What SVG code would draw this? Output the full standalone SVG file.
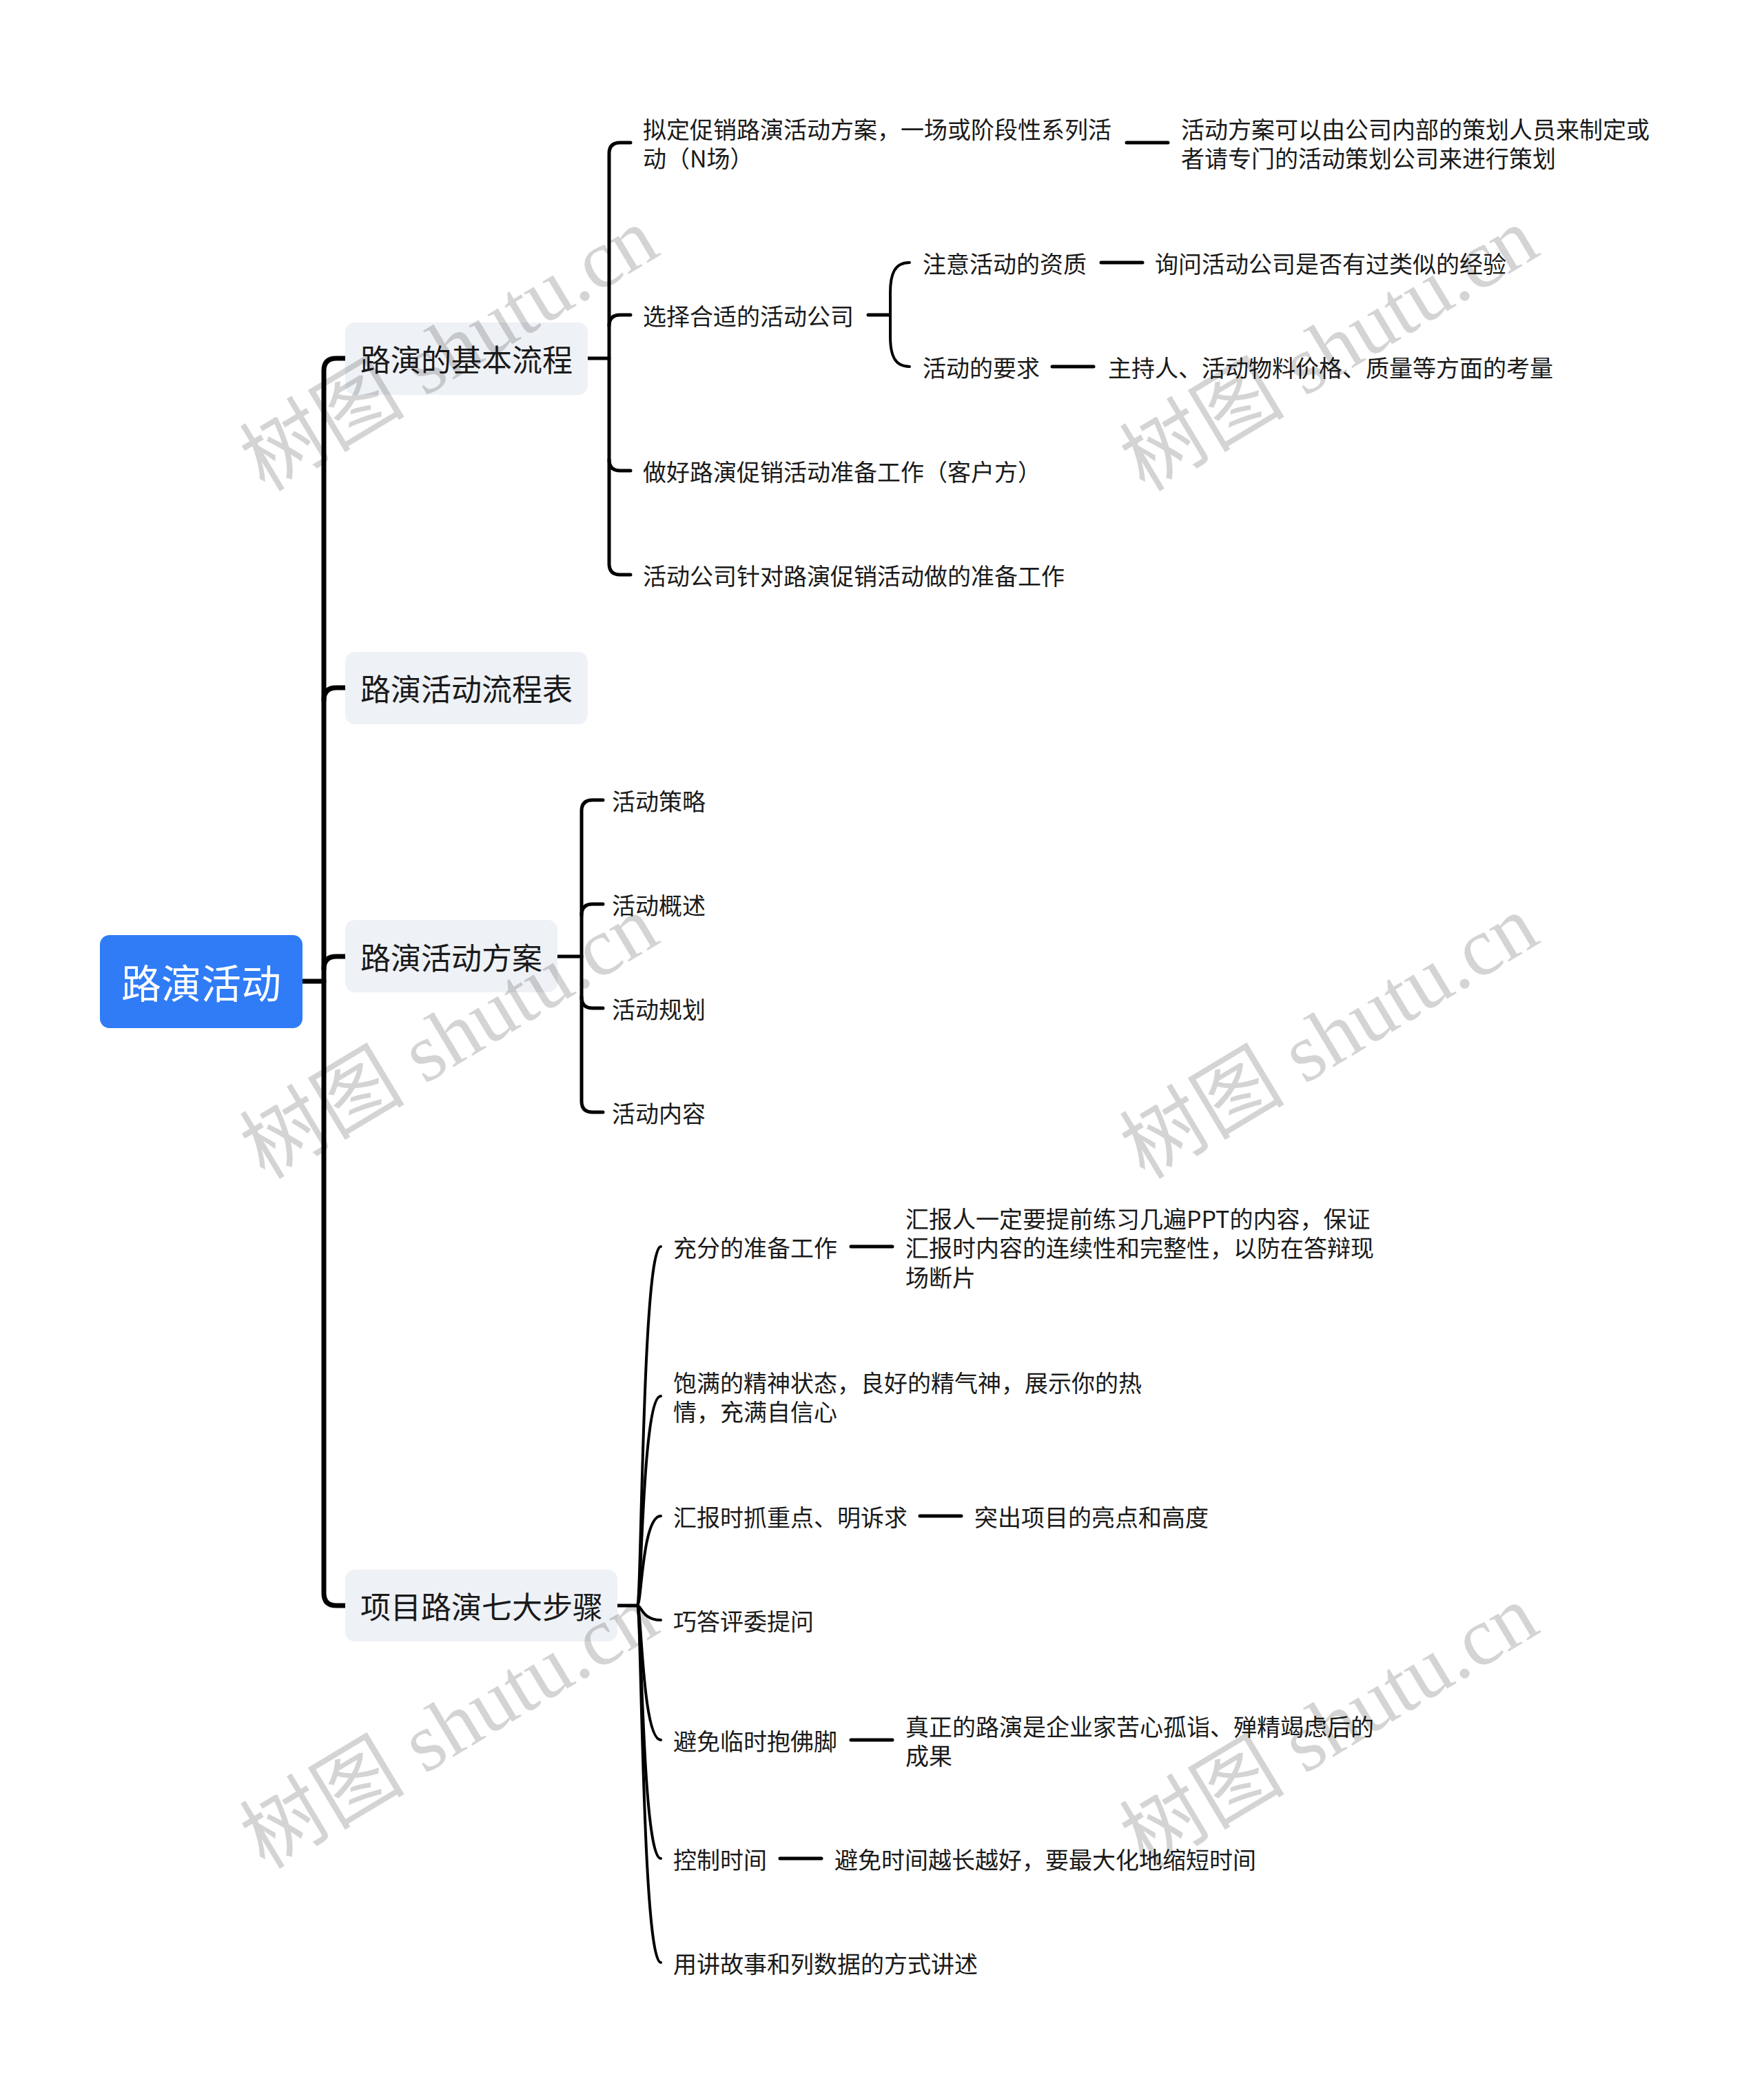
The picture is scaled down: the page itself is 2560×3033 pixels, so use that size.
<svg xmlns="http://www.w3.org/2000/svg" width="2560" height="3033" viewBox="0 0 2560 3033">
<style>
.t{font-family:"Noto Sans CJK SC","Noto Sans",sans-serif;fill:#1a1a1a;dominant-baseline:central}
.t2{font-size:34px}
.t1{font-size:44px}
.root{font-size:58px;fill:#ffffff;text-anchor:middle}
.box{fill:#eef1f5}
.ln{fill:none;stroke:#000;stroke-linecap:round;stroke-linejoin:round}
.w7{stroke-width:7}
.w5{stroke-width:5}
.w4{stroke-width:4}
.wm{font-family:"Liberation Serif","Noto Sans CJK SC",serif;font-size:120px;fill:#000;fill-opacity:0.17;text-anchor:middle;dominant-baseline:central}
</style>
<rect width="2560" height="3033" fill="#ffffff"/>
<g id="connectors">
  <path class="ln w7" d="M439 1424 H470"/>
  <path class="ln w7" d="M501 520 H488 Q470 520 470 538 V2312 Q470 2330 488 2330 H501"/>
  <path class="ln w7" d="M470 1016 Q470 998 488 998 H501"/>
  <path class="ln w7" d="M470 1406 Q470 1388 488 1388 H501"/>
  <!-- 路演的基本流程 -->
  <path class="ln w5" d="M853 520 H884"/>
  <path class="ln w5" d="M915 207 H900 Q884 207 884 223 V818 Q884 834 900 834 H915"/>
  <path class="ln w5" d="M884 473 Q884 457 900 457 H915"/>
  <path class="ln w5" d="M884 667 Q884 683 900 683 H915"/>
  <path class="ln w5" d="M1635 207 H1695"/>
  <path class="ln w5" d="M1260 457 H1290"/>
  <path class="ln w4" d="M1320 381 C1298 381 1292 398 1292 425 V488 C1292 515 1298 532 1320 532"/>
  <path class="ln w5" d="M1598 381 H1658"/>
  <path class="ln w5" d="M1527 532 H1587"/>
  <!-- 路演活动方案 -->
  <path class="ln w5" d="M809 1388 H844"/>
  <path class="ln w5" d="M875 1161 H860 Q844 1161 844 1177 V1598 Q844 1614 860 1614 H875"/>
  <path class="ln w5" d="M844 1328 Q844 1312 860 1312 H875"/>
  <path class="ln w5" d="M844 1447 Q844 1463 860 1463 H875"/>
  <!-- 项目路演七大步骤 -->
  <path class="ln w5" d="M896 2330 H925"/>
  <path class="ln w4" d="M925 2330 C931 2330 932 1809 959 1809"/>
  <path class="ln w4" d="M925 2330 C931 2330 932 2026 959 2026"/>
  <path class="ln w4" d="M925 2330 C931 2330 932 2200 959 2200"/>
  <path class="ln w4" d="M925 2330 C931 2330 932 2351 959 2351"/>
  <path class="ln w4" d="M925 2330 C931 2330 932 2525 959 2525"/>
  <path class="ln w4" d="M925 2330 C931 2330 932 2697 959 2697"/>
  <path class="ln w4" d="M925 2330 C931 2330 932 2848 959 2848"/>
  <path class="ln w5" d="M1235 1809 H1295"/>
  <path class="ln w5" d="M1335 2200 H1395"/>
  <path class="ln w5" d="M1235 2525 H1295"/>
  <path class="ln w5" d="M1132 2697 H1192"/>
</g>
<g id="root">
  <rect x="145" y="1357" width="294" height="135" rx="14" fill="#2f7cf6"/>
  <text class="t root" x="292" y="1424">路演活动</text>
</g>
<g id="n1">
  <rect class="box" x="501" y="468" width="352" height="105" rx="14"/>
  <text class="t t1" x="523" y="520">路演的基本流程</text>
</g>
<g id="n2">
  <rect class="box" x="501" y="946" width="352" height="105" rx="14"/>
  <text class="t t1" x="523" y="998">路演活动流程表</text>
</g>
<g id="n3">
  <rect class="box" x="501" y="1335" width="308" height="105" rx="14"/>
  <text class="t t1" x="523" y="1388">路演活动方案</text>
</g>
<g id="n4">
  <rect class="box" x="501" y="2278" width="395" height="104" rx="14"/>
  <text class="t t1" x="523" y="2330">项目路演七大步骤</text>
</g>
<g id="n1a">
  <text class="t t2" x="933" y="186">拟定促销路演活动方案，一场或阶段性系列活</text>
  <text class="t t2" x="933" y="228">动（N场）</text>
</g>
<g id="n1a1">
  <text class="t t2" x="1714" y="186">活动方案可以由公司内部的策划人员来制定或</text>
  <text class="t t2" x="1714" y="228">者请专门的活动策划公司来进行策划</text>
</g>
<g id="n1b"><text class="t t2" x="933" y="457">选择合适的活动公司</text></g>
<g id="n1b1"><text class="t t2" x="1339" y="381">注意活动的资质</text></g>
<g id="n1b1a"><text class="t t2" x="1676" y="381">询问活动公司是否有过类似的经验</text></g>
<g id="n1b2"><text class="t t2" x="1339" y="532">活动的要求</text></g>
<g id="n1b2a"><text class="t t2" x="1608" y="532">主持人、活动物料价格、质量等方面的考量</text></g>
<g id="n1c"><text class="t t2" x="933" y="683">做好路演促销活动准备工作（客户方）</text></g>
<g id="n1d"><text class="t t2" x="933" y="834">活动公司针对路演促销活动做的准备工作</text></g>
<g id="n3a"><text class="t t2" x="888" y="1161">活动策略</text></g>
<g id="n3b"><text class="t t2" x="888" y="1312">活动概述</text></g>
<g id="n3c"><text class="t t2" x="888" y="1463">活动规划</text></g>
<g id="n3d"><text class="t t2" x="888" y="1614">活动内容</text></g>
<g id="n4a"><text class="t t2" x="977" y="1809">充分的准备工作</text></g>
<g id="n4a1">
  <text class="t t2" x="1314" y="1767">汇报人一定要提前练习几遍PPT的内容，保证</text>
  <text class="t t2" x="1314" y="1809">汇报时内容的连续性和完整性，以防在答辩现</text>
  <text class="t t2" x="1314" y="1852">场断片</text>
</g>
<g id="n4b">
  <text class="t t2" x="977" y="2005">饱满的精神状态，良好的精气神，展示你的热</text>
  <text class="t t2" x="977" y="2047">情，充满自信心</text>
</g>
<g id="n4c"><text class="t t2" x="977" y="2200">汇报时抓重点、明诉求</text></g>
<g id="n4c1"><text class="t t2" x="1414" y="2200">突出项目的亮点和高度</text></g>
<g id="n4d"><text class="t t2" x="977" y="2351">巧答评委提问</text></g>
<g id="n4e"><text class="t t2" x="977" y="2525">避免临时抱佛脚</text></g>
<g id="n4e1">
  <text class="t t2" x="1314" y="2504">真正的路演是企业家苦心孤诣、殚精竭虑后的</text>
  <text class="t t2" x="1314" y="2546">成果</text>
</g>
<g id="n4f"><text class="t t2" x="977" y="2697">控制时间</text></g>
<g id="n4f1"><text class="t t2" x="1211" y="2697">避免时间越长越好，要最大化地缩短时间</text></g>
<g id="n4g"><text class="t t2" x="977" y="2848">用讲故事和列数据的方式讲述</text></g>
<g id="watermarks">
  <text class="wm" transform="translate(652 507) rotate(-31)">树图 shutu.cn</text>
  <text class="wm" transform="translate(1929 507) rotate(-31)">树图 shutu.cn</text>
  <text class="wm" transform="translate(652 1505) rotate(-31)">树图 shutu.cn</text>
  <text class="wm" transform="translate(1929 1505) rotate(-31)">树图 shutu.cn</text>
  <text class="wm" transform="translate(652 2506) rotate(-31)">树图 shutu.cn</text>
  <text class="wm" transform="translate(1929 2506) rotate(-31)">树图 shutu.cn</text>
</g>
</svg>
